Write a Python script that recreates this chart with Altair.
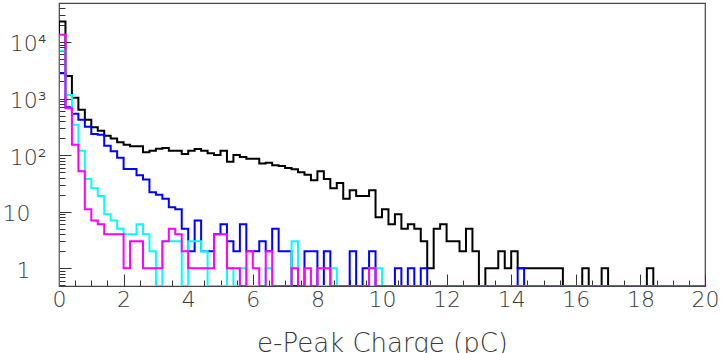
import altair as alt
import pandas as pd

# ---------------- data (counts per 0.2 pC bin, 0..20 pC) ----------------
BIN_LO, BIN_HI, NBINS = 0.0, 20.0, 100
Y_MIN, Y_MAX = 0.487, 48700.0

black_counts = [
    23000, 2500, 1030, 630, 420, 310, 270, 220, 197, 168,
    153, 143, 143, 112, 120, 130, 134, 120, 120, 105,
    120, 128, 120, 108, 100, 120, 76, 100, 93, 86,
    86, 71, 73, 66, 64, 59, 56, 50, 45, 36,
    52, 38, 26, 32, 17, 24, 19, 19, 24, 8,
    11, 6, 9, 5, 6, 5, 3, 1, 5, 6,
    3, 3, 2, 5, 2, 0, 1, 1, 2, 1,
    2, 1, 1, 1, 1, 1, 1, 1, 0, 0,
    0, 1, 0, 0, 1, 0, 0, 0, 0, 0,
    0, 1, 0, 0, 0, 0, 0, 0, 0, 0,
]
blue_counts = [
    2800, 700, 540, 420, 316, 235, 229, 147, 117, 90,
    57, 57, 44, 37, 22, 20, 17, 12, 11, 5,
    2, 7, 2, 2, 4, 6, 3, 2, 6, 2,
    2, 3, 2, 5, 2, 2, 0, 0, 2, 2,
    0, 2, 0, 0, 0, 2, 0, 1, 2, 0,
    0, 0, 1, 0, 1, 0, 1, 0, 0, 0,
    0, 0, 0, 0, 0, 0, 0, 0, 0, 0,
    0, 1, 0, 0, 0, 0, 0, 0, 0, 0,
    0, 0, 0, 0, 0, 0, 0, 0, 0, 0,
    0, 0, 0, 0, 0, 0, 0, 0, 0, 0,
]
cyan_counts = [
    7000, 1150, 343, 120, 38, 26, 19, 9, 7, 5,
    4, 4, 6, 4, 2, 0, 3, 3, 3, 0,
    3, 3, 2, 0, 0, 0, 1, 0, 1, 0,
    0, 0, 1, 0, 0, 0, 3, 0, 0, 0,
    0, 0, 1, 0, 0, 0, 0, 0, 1, 1,
    0, 0, 0, 0, 0, 0, 0, 0, 0, 0,
    0, 0, 0, 0, 0, 0, 0, 0, 0, 0,
    0, 0, 0, 0, 0, 0, 0, 0, 0, 0,
    0, 0, 0, 0, 0, 0, 0, 0, 0, 0,
    0, 0, 0, 0, 0, 0, 0, 0, 0, 0,
]
magenta_counts = [
    13400, 673, 153, 52, 11, 7, 6, 4, 4, 4,
    1, 3, 3, 1, 1, 1, 3, 5, 4, 2,
    1, 1, 1, 1, 4, 4, 1, 1, 0, 2,
    1, 0, 2, 0, 0, 0, 1, 0, 1, 0,
    1, 1, 0, 0, 0, 0, 0, 0, 1, 0,
    0, 0, 0, 0, 0, 0, 0, 0, 0, 0,
    0, 0, 0, 0, 0, 0, 0, 0, 0, 0,
    0, 0, 0, 0, 0, 0, 0, 0, 0, 0,
    0, 0, 0, 0, 0, 0, 0, 0, 0, 0,
    0, 0, 0, 0, 0, 0, 0, 0, 0, 0,
]

series_names = ["black", "blue", "cyan", "magenta"]
series_colors = ["#000000", "#0000ff", "#00ffff", "#ff00ff"]
series_counts = [black_counts, blue_counts, cyan_counts, magenta_counts]

x_label_values = [0, 2, 4, 6, 8, 10, 12, 14, 16, 18, 20]
y_label_values = [1, 10, 100, 1000, 10000]

# ---------------- helpers ----------------
W, H = 646, 283
FONT = "DejaVu Sans"
TXT = "#3a3a3a"


def step_frame(counts, name):
    w = (BIN_HI - BIN_LO) / NBINS
    rows = [{"x": BIN_LO, "y": Y_MIN, "o": 0}]
    for i, c in enumerate(counts):
        rows.append({"x": BIN_LO + i * w, "y": c if c > 0 else Y_MIN, "o": i + 1})
    last = counts[-1] if counts[-1] > 0 else Y_MIN
    rows.append({"x": BIN_HI, "y": last, "o": NBINS + 1})
    rows.append({"x": BIN_HI, "y": Y_MIN, "o": NBINS + 2})
    df = pd.DataFrame(rows)
    df["s"] = name
    return df


x_scale = alt.Scale(domain=[BIN_LO, BIN_HI], nice=False, zero=False)
y_scale = alt.Scale(type="log", domain=[Y_MIN, Y_MAX], nice=False)

# tick positions for the inward tick axes
x_tick_values = [i * 0.5 for i in range(0, 41)]
y_tick_values = []
for dec in [0.1, 1, 10, 100, 1000, 10000]:
    for m in range(1, 10):
        v = round(m * dec, 6)
        if Y_MIN <= v <= Y_MAX:
            y_tick_values.append(v)

label_x_axis = alt.Axis(
    values=x_label_values, ticks=False, domain=False, grid=False,
    labelFont=FONT, labelFontSize=22, labelColor=TXT, labelFontWeight=200,
    labelPadding=3, labelBaseline="top", labelFlush=False,
    title="e-Peak Charge (pC)", titleFont=FONT, titleFontSize=26,
    titleFontWeight=200, titleColor=TXT, titlePadding=20,
)
label_y_axis = alt.Axis(
    values=y_label_values, ticks=False, domain=False, grid=False,
    labelFont=FONT, labelFontSize=22, labelColor=TXT, labelFontWeight=200,
    labelExpr=("datum.value == 1 ? '1' : datum.value == 10 ? '10' : "
               "datum.value == 100 ? '10\u00b2' : datum.value == 1000 ? '10\u00b3' : '10\u2074'"),
    labelPadding={"condition": {"test": "datum.value < 50", "value": 29}, "value": 13},
    labelFlush=False, labelBaseline="middle", labelOffset=2,
    title=None,
)
tick_x_axis = alt.Axis(
    orient="top", offset=-H, values=x_tick_values, labels=False, domain=False,
    grid=False, ticks=True, tickColor="#333333", tickWidth=1,
    tickSize={"condition": {"test": "datum.value % 2 == 0", "value": 12}, "value": 6},
    title=None,
)
tick_y_axis = alt.Axis(
    orient="right", offset=-W, values=y_tick_values, labels=False, domain=False,
    grid=False, ticks=True, tickColor="#333333", tickWidth=1,
    tickSize={"condition": {"test": "abs(log(datum.value)/LN10 - round(log(datum.value)/LN10)) < 0.0001",
                            "value": 12}, "value": 6},
    title=None,
)

layers = []
for k, (name, col, counts) in enumerate(zip(series_names, series_colors, series_counts)):
    df = step_frame(counts, name)
    if k == 0:
        xa, ya = label_x_axis, label_y_axis
    else:
        xa, ya = None, None
    layers.append(
        alt.Chart(df).mark_line(interpolate="step-after", strokeWidth=2, clip=True, color=col)
        .encode(
            x=alt.X("x:Q", scale=x_scale, axis=xa),
            y=alt.Y("y:Q", scale=y_scale, axis=ya),
            order=alt.Order("o:Q"),
        )
    )

tick_layer = (
    alt.Chart(step_frame(black_counts, "ticks")).mark_line(opacity=0, clip=True)
    .encode(
        x=alt.X("x:Q", scale=x_scale, axis=tick_x_axis),
        y=alt.Y("y:Q", scale=y_scale, axis=tick_y_axis),
        order=alt.Order("o:Q"),
    )
)

chart = (
    alt.layer(*layers, tick_layer)
    .resolve_axis(x="independent", y="independent")
    .properties(
        width=W, height=H,
        autosize=alt.AutoSizeParams(type="none"),
        padding={"left": 59, "top": 3, "right": 16, "bottom": 67},
        background="white",
    )
    .configure_view(stroke="#444444", strokeWidth=1.2)
)

chart.save("out.html", embed_options={"renderer": "svg", "actions": False})
